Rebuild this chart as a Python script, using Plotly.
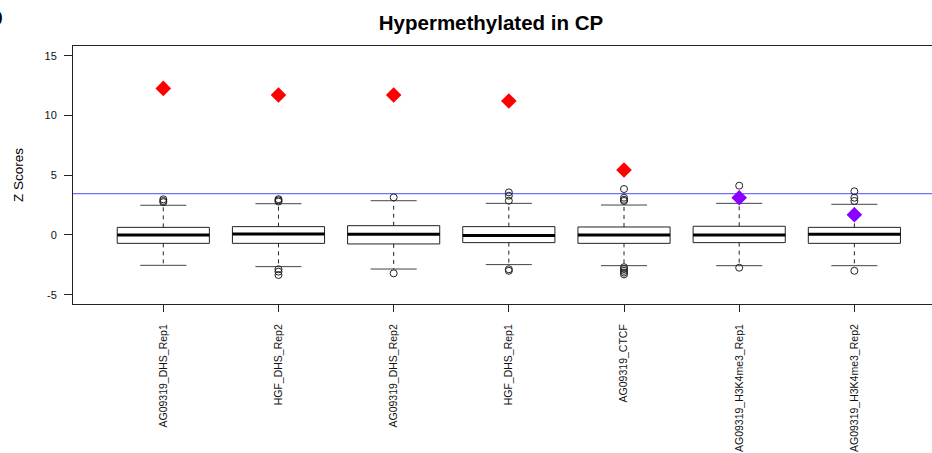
import plotly.graph_objects as go

categories = ["AG09319_DHS_Rep1", "HGF_DHS_Rep2", "AG09319_DHS_Rep2", "HGF_DHS_Rep1",
              "AG09319_CTCF", "AG09319_H3K4me3_Rep1", "AG09319_H3K4me3_Rep2"]
q1 = [-0.70, -0.70, -0.75, -0.64, -0.70, -0.64, -0.70]
median = [0.00, 0.08, 0.06, -0.05, 0.00, 0.00, 0.06]
q3 = [0.64, 0.70, 0.78, 0.70, 0.67, 0.73, 0.64]
lower_whisker = [-2.54, -2.65, -2.85, -2.48, -2.57, -2.57, -2.57]
upper_whisker = [2.49, 2.62, 2.87, 2.65, 2.51, 2.65, 2.57]
outliers = [
    [2.99, 2.85, 2.75],
    [3.00, 2.90, 2.80, -2.87, -3.07, -3.35],
    [3.15, -3.21],
    [3.57, 3.29, 2.87, -2.87, -3.00],
    [3.85, 3.12, 2.95, 2.85, -2.70, -2.85, -3.00, -3.15, -3.30],
    [4.13, -2.74],
    [3.66, 3.12, 2.85, -3.00],
]
highlight = [12.28, 11.73, 11.73, 11.22, 5.44, 3.12, 1.70]
highlight_colors = ["#FF0000", "#FF0000", "#FF0000", "#FF0000", "#FF0000", "#8A00FF", "#8A00FF"]
threshold = 3.47
y_ticks = [-5, 0, 5, 10, 15]

pos = list(range(len(categories)))
FONT = "Liberation Sans, Arial, Helvetica, sans-serif"
BOX_W = 0.8
CAP_W = 0.4

fig = go.Figure()

# dashed whiskers
wx, wy = [], []
for i in pos:
    wx += [i, i, None, i, i, None]
    wy += [q3[i], upper_whisker[i], None, q1[i], lower_whisker[i], None]
fig.add_trace(go.Scatter(x=wx, y=wy, mode="lines", line=dict(color="#222222", width=1, dash="4px,4px"),
                         hoverinfo="skip", showlegend=False))
# whisker caps
cx, cy = [], []
for i in pos:
    cx += [i - CAP_W / 2, i + CAP_W / 2, None, i - CAP_W / 2, i + CAP_W / 2, None]
    cy += [upper_whisker[i], upper_whisker[i], None, lower_whisker[i], lower_whisker[i], None]
fig.add_trace(go.Scatter(x=cx, y=cy, mode="lines", line=dict(color="#444444", width=1),
                         hoverinfo="skip", showlegend=False))

# boxes
fig.add_trace(go.Box(x=pos, q1=q1, median=median, q3=q3, lowerfence=q1, upperfence=q3,
                     width=BOX_W, fillcolor="white", line=dict(color="#222222", width=1),
                     boxpoints=False, showlegend=False, whiskerwidth=0))
# thick medians
mx, my = [], []
for i in pos:
    mx += [i - BOX_W / 2, i + BOX_W / 2, None]
    my += [median[i], median[i], None]
fig.add_trace(go.Scatter(x=mx, y=my, mode="lines", line=dict(color="black", width=3),
                         hoverinfo="skip", showlegend=False))

# outliers
ox, oy = [], []
for i in pos:
    for v in outliers[i]:
        ox.append(i)
        oy.append(v)
fig.add_trace(go.Scatter(x=ox, y=oy, mode="markers",
                         marker=dict(symbol="circle-open", size=7, color="#222222", line=dict(width=1)),
                         showlegend=False))

# highlighted values
fig.add_trace(go.Scatter(x=pos, y=highlight, mode="markers",
                         marker=dict(symbol="diamond", size=12, color=highlight_colors, line=dict(width=0)),
                         showlegend=False))

fig.add_shape(type="line", xref="paper", x0=0, x1=1, yref="y", y0=threshold, y1=threshold,
              line=dict(color="#7070FF", width=1.2), layer="below")

fig.update_layout(
    width=932, height=453,
    margin=dict(l=73, r=0, t=46, b=149),
    paper_bgcolor="white", plot_bgcolor="white",
    font=dict(family=FONT, color="black"),
    title=dict(text="<b>Hypermethylated in CP</b>", x=491 / 932, xref="container", xanchor="center",
               y=1 - 23 / 453, yref="container", yanchor="middle",
               font=dict(size=20.5, family=FONT, color="black")),
    xaxis=dict(range=[-0.784, 6.674], tickvals=pos, ticktext=categories, tickangle=-90,
               showline=True, linecolor="#222222", linewidth=1, mirror=True,
               ticks="outside", ticklen=7, tickcolor="#222222", ticklabelstandoff=8,
               showgrid=False, zeroline=False, tickfont=dict(size=10.5, family=FONT, color="#111111")),
    yaxis=dict(range=[-5.78, 15.83], tickvals=y_ticks, ticktext=[str(v) for v in y_ticks],
               showline=True, linecolor="#222222", linewidth=1, mirror=False,
               ticks="outside", ticklen=8, tickcolor="#222222", ticklabelstandoff=5,
               showgrid=False, zeroline=False, tickfont=dict(size=11, family=FONT, color="#111111")),
    annotations=[
        dict(text="Z Scores", xref="paper", yref="paper", x=(18 - 73) / 859, y=(304 - 175) / 258,
             textangle=-90, showarrow=False, font=dict(size=13.5, family=FONT), xanchor="center", yanchor="middle"),
        dict(text="<b>b</b>", xref="paper", yref="paper", x=(5 - 73) / 859, y=1 + (46 - 16) / 258,
             showarrow=False, font=dict(size=26, family=FONT), xanchor="right", yanchor="middle"),
    ],
)

fig.write_html("out.html")
